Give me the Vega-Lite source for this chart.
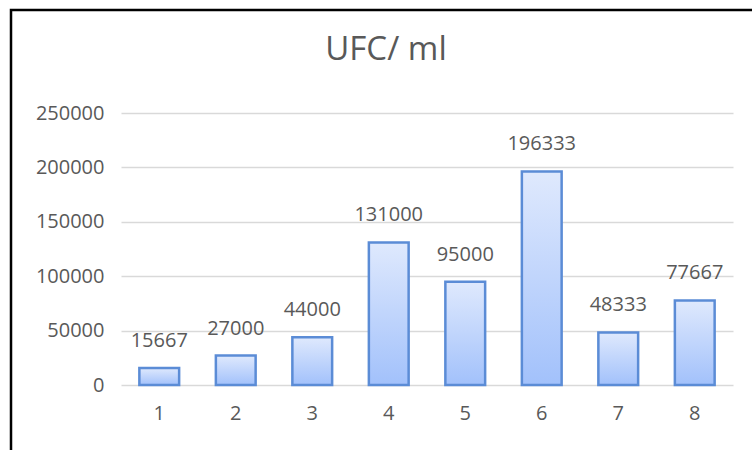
{
  "$schema": "https://vega.github.io/schema/vega-lite/v6.json",
  "autosize": "none",
  "padding": {"left": 11, "top": 10, "right": 0, "bottom": 0},
  "width": 760,
  "height": 445,
  "background": "white",
  "config": {
    "view": {"stroke": "black", "strokeWidth": 2.5},
    "font": "Open Sans"
  },
  "title": {
    "text": "UFC/ ml",
    "baseline": "alphabetic",
    "offset": 0,
    "dy": 83,
    "dx": -5,
    "fontSize": 33,
    "font": "Open Sans",
    "fontWeight": "normal",
    "color": "#595959"
  },
  "data": {
    "values": [
      {"sample": "1", "ufc": 15667},
      {"sample": "2", "ufc": 27000},
      {"sample": "3", "ufc": 44000},
      {"sample": "4", "ufc": 131000},
      {"sample": "5", "ufc": 95000},
      {"sample": "6", "ufc": 196333},
      {"sample": "7", "ufc": 48333},
      {"sample": "8", "ufc": 77667}
    ]
  },
  "encoding": {
    "x": {
      "field": "sample",
      "type": "nominal",
      "sort": null,
      "scale": {"range": [110, 722], "paddingInner": 0.48, "paddingOuter": 0.24},
      "axis": {
        "title": null,
        "labelAngle": 0,
        "domain": false,
        "ticks": false,
        "tickSize": 0,
        "offset": -70,
        "labelPadding": 18,
        "labelFontSize": 20,
        "labelColor": "#595959",
        "labelFont": "Open Sans"
      }
    },
    "y": {
      "field": "ufc",
      "type": "quantitative",
      "scale": {"domain": [0, 250000], "nice": false, "range": [375, 103]},
      "axis": {
        "title": null,
        "values": [0, 50000, 100000, 150000, 200000, 250000],
        "format": "d",
        "domain": false,
        "ticks": false,
        "tickSize": 0,
        "offset": -93,
        "labelPadding": 0,
        "labelFontSize": 20,
        "labelColor": "#595959",
        "labelFont": "Open Sans",
        "grid": true,
        "gridColor": "#d9d9d9",
        "gridWidth": 1.5
      }
    }
  },
  "layer": [
    {
      "mark": {
        "type": "bar",
        "stroke": "#5b8cd6",
        "strokeWidth": 2.5,
        "color": {
          "gradient": "linear",
          "x1": 0, "y1": 0, "x2": 0, "y2": 1,
          "stops": [
            {"offset": 0, "color": "#dfe9fd"},
            {"offset": 1, "color": "#a2c1fb"}
          ]
        }
      }
    },
    {
      "mark": {
        "type": "text",
        "baseline": "alphabetic",
        "dy": -21,
        "fontSize": 20,
        "font": "Open Sans",
        "color": "#595959"
      },
      "encoding": {
        "text": {"field": "ufc", "type": "quantitative", "format": "d"}
      }
    }
  ]
}
